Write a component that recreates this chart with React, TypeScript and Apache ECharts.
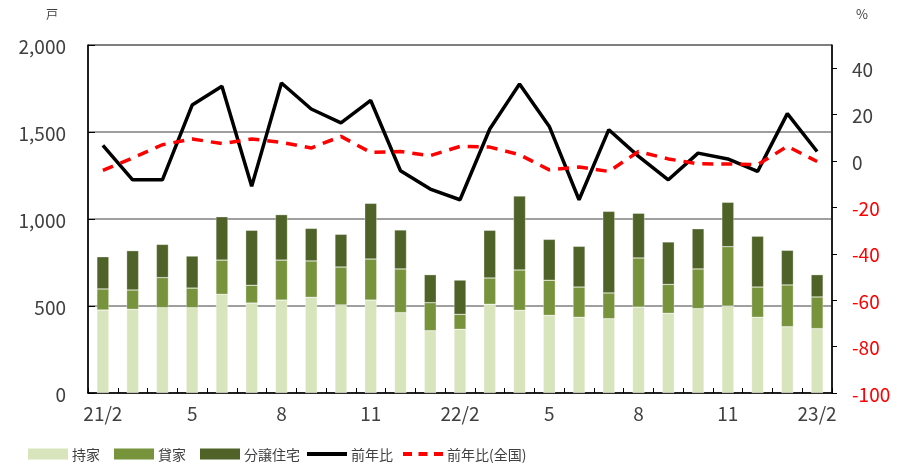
import React, { useEffect, useRef } from "react";
import * as echarts from "echarts";

const categories = ["21/2","3","4","5","6","7","8","9","10","11","12","1","22/2","3","4","5","6","7","8","9","10","11","12","1","23/2"];
const ownerHouses = [477,481,490,490,567,517,534,550,506,534,462,358,366,510,475,446,435,427,494,458,485,500,435,381,370];
const rentalHouses = [121,111,173,113,197,102,230,209,218,236,251,161,86,151,232,202,174,148,282,166,228,341,174,240,182];
const forSaleHouses = [185,226,191,184,249,316,261,187,188,320,224,161,197,274,425,235,234,469,257,244,231,255,292,199,128];
const yoyLocal = [6.7,-8.1,-8.1,24.1,32.2,-10.9,33.6,22.4,16.4,26.1,-4.2,-12.1,-16.7,13.8,33.2,14.9,-16.7,13.5,2.0,-8.1,3.4,0.9,-4.5,20.4,4.1];
const yoyNational = [-4.0,1.3,7.0,9.5,7.5,9.5,8.0,5.6,10.6,3.7,4.1,2.3,6.3,6.0,2.7,-3.8,-2.6,-4.5,4.1,0.9,-1.2,-1.3,-1.6,6.3,-0.2];

const FONT = "'Noto Sans CJK JP', 'Noto Sans', sans-serif";
const TXT = "#404040";
const C_OWNER = "#d8e4bc";
const C_RENT = "#77933c";
const C_SALE = "#4f6228";

export default function App() {
  const ref = useRef<HTMLDivElement>(null);
  useEffect(() => {
    if (!ref.current) return;
    const chart = echarts.init(ref.current, null, { renderer: "svg" });
    const legendBase = (name: string, left: number, icon: string, color: string, h: number) => ({
      data: [{ name, icon, itemStyle: { color, borderWidth: 0, opacity: 1 } }],
      left,
      top: 447,
      padding: 0,
      itemWidth: 40,
      itemHeight: h,
      itemGap: 4,
      selectedMode: false,
      textStyle: { fontSize: 14, color: TXT, fontFamily: FONT, padding: [0, 0, 0, -1] },
    });
    const solidIcon = "path://M0,0h40v4h-40z";
    const dashIcon = "path://M0,0h9v4h-9zM15.5,0h9v4h-9zM31,0h9v4h-9z";
    chart.setOption({
      animation: false,
      textStyle: { fontFamily: FONT },
      grid: { left: 88, right: 65, top: 45, bottom: 74, show: true, borderColor: "#000", borderWidth: 1 },
      legend: [
        legendBase("持家", 28, "rect", C_OWNER, 11),
        legendBase("貸家", 114, "rect", C_RENT, 11),
        legendBase("分譲住宅", 200, "rect", C_SALE, 11),
        legendBase("前年比", 307, solidIcon, "#000", 4),
        legendBase("前年比(全国)", 403, dashIcon, "#ff0000", 4),
      ],
      graphic: [
        { type: "text", left: 46, top: 7, style: { text: "戸", fontSize: 12, fill: TXT, fontFamily: FONT } },
        { type: "text", left: 856, top: 7, style: { text: "%", fontSize: 13, fill: TXT, fontFamily: FONT } },
      ],
      xAxis: {
        type: "category",
        data: categories,
        axisLine: { lineStyle: { color: "#000", width: 1.5 } },
        axisTick: { show: true, inside: true, interval: 0, length: 5, lineStyle: { color: "#000" } },
        axisLabel: { interval: 2, fontSize: 19, color: TXT, margin: 10, fontFamily: FONT },
      },
      yAxis: [
        {
          type: "value",
          min: 0,
          max: 2000,
          interval: 500,
          axisLine: { show: true, lineStyle: { color: "#000", width: 1.5 } },
          axisTick: { show: true, inside: true, length: 7, lineStyle: { color: "#000" } },
          splitLine: { show: true, lineStyle: { color: "#7f7f7f", width: 1.5 } },
          axisLabel: {
            fontSize: 19,
            color: TXT,
            margin: 22,
            fontFamily: FONT,
            formatter: (v: number) => v.toLocaleString("en-US"),
          },
        },
        {
          type: "value",
          min: -100,
          max: 50,
          interval: 20,
          position: "right",
          axisLine: { show: true, lineStyle: { color: "#000", width: 1.5 } },
          axisTick: { show: true, inside: false, length: 5, lineStyle: { color: "#000" } },
          splitLine: { show: false },
          axisLabel: {
            fontSize: 19,
            margin: 20,
            fontFamily: FONT,
            showMaxLabel: false,
            color: (v: any) => (Number(v) < 0 ? "#ff0000" : TXT),
          },
        },
      ],
      series: [
        {
          name: "持家",
          type: "bar",
          stack: "total",
          data: ownerHouses,
          barWidth: 12,
          itemStyle: { color: C_OWNER, borderColor: "rgba(255,255,255,0.6)", borderWidth: 0.5 },
        },
        {
          name: "貸家",
          type: "bar",
          stack: "total",
          data: rentalHouses,
          barWidth: 12,
          itemStyle: { color: C_RENT, borderColor: "rgba(255,255,255,0.6)", borderWidth: 0.5 },
        },
        {
          name: "分譲住宅",
          type: "bar",
          stack: "total",
          data: forSaleHouses,
          barWidth: 12,
          itemStyle: { color: C_SALE, borderColor: "rgba(255,255,255,0.6)", borderWidth: 0.5 },
        },
        {
          name: "前年比",
          type: "line",
          yAxisIndex: 1,
          data: yoyLocal,
          symbol: "none",
          lineStyle: { color: "#000", width: 3.5 },
          itemStyle: { color: "#000" },
        },
        {
          name: "前年比(全国)",
          type: "line",
          yAxisIndex: 1,
          data: yoyNational,
          symbol: "none",
          lineStyle: { color: "#ff0000", width: 3.5, type: [11, 8] },
          itemStyle: { color: "#ff0000" },
        },
      ],
    });
    return () => chart.dispose();
  }, []);
  return <div ref={ref} style={{ position: "fixed", left: 0, top: 0, width: 897, height: 467 }} />;
}
